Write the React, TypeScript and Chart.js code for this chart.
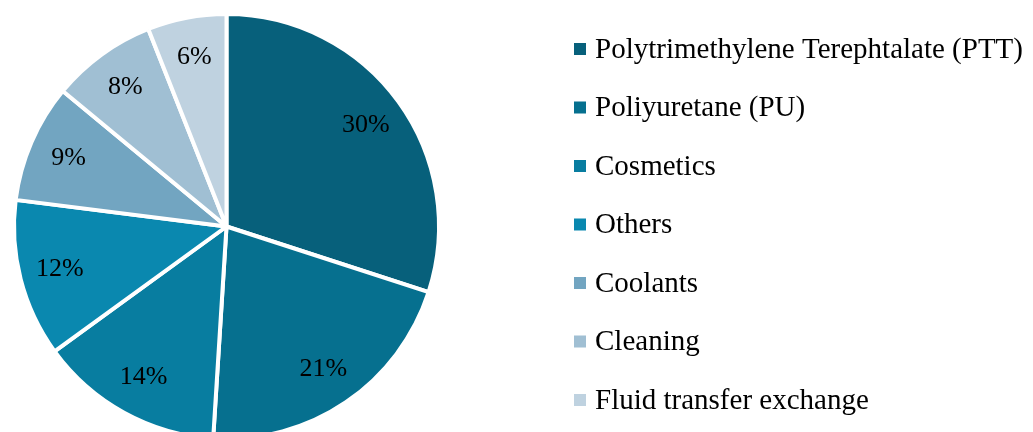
import React, { useEffect, useRef } from "react";
import { Chart, registerables } from "chart.js";

Chart.register(...registerables);

const categories = [
  "Polytrimethylene Terephtalate (PTT)",
  "Poliyuretane (PU)",
  "Cosmetics",
  "Others",
  "Coolants",
  "Cleaning",
  "Fluid transfer exchange",
];
const shares = [30, 21, 14, 12, 9, 8, 6];
const sliceColors = ["#07607B", "#06708F", "#087DA0", "#0A88AF", "#72A5C1", "#A0BFD3", "#BFD2E0"];

const FONT = '"Liberation Serif", "DejaVu Serif", serif';

const labelPlugin = {
  id: "sliceLabels",
  afterDatasetsDraw(chart: any) {
    const ctx = chart.ctx;
    const meta = chart.getDatasetMeta(0);
    ctx.save();
    ctx.font = `26px ${FONT}`;
    ctx.fillStyle = "#000";
    ctx.textAlign = "center";
    ctx.textBaseline = "middle";
    meta.data.forEach((arc: any, i: number) => {
      const { x, y, startAngle, endAngle, outerRadius } = arc.getProps(
        ["x", "y", "startAngle", "endAngle", "outerRadius"],
        true
      );
      const mid = (startAngle + endAngle) / 2;
      const r = outerRadius * 0.81;
      ctx.fillText(`${shares[i]}%`, x + Math.cos(mid) * r, y + Math.sin(mid) * r);
    });
    ctx.restore();
  },
};

const legendPlugin = {
  id: "sideLegend",
  afterDraw(chart: any) {
    const ctx = chart.ctx;
    ctx.save();
    ctx.font = `29px ${FONT}`;
    ctx.textAlign = "left";
    ctx.textBaseline = "middle";
    const startY = 49;
    const step = 58.5;
    categories.forEach((label, i) => {
      const cy = startY + i * step;
      ctx.fillStyle = sliceColors[i];
      ctx.fillRect(574, cy - 6, 12, 12);
      ctx.fillStyle = "#000";
      ctx.fillText(label, 595, cy + 1);
    });
    ctx.restore();
  },
};

export default function App() {
  const ref = useRef<HTMLCanvasElement>(null);
  useEffect(() => {
    if (!ref.current) return;
    const chart = new Chart(ref.current, {
      type: "pie",
      data: {
        labels: categories,
        datasets: [
          {
            data: shares,
            backgroundColor: sliceColors,
            borderColor: "#ffffff",
            borderWidth: 4,
          },
        ],
      },
      options: {
        responsive: false,
        animation: false,
        layout: { padding: { left: 12, right: 592, top: 12, bottom: 0 } },
        plugins: {
          legend: { display: false },
          tooltip: { enabled: false },
        },
      },
      plugins: [labelPlugin, legendPlugin],
    });
    return () => chart.destroy();
  }, []);
  return (
    <div
      style={{
        position: "fixed",
        left: 0,
        top: 0,
        width: 1033,
        height: 432,
        overflow: "hidden",
        background: "#fff",
      }}
    >
      <canvas ref={ref} width={1033} height={441} style={{ display: "block" }} />
    </div>
  );
}
